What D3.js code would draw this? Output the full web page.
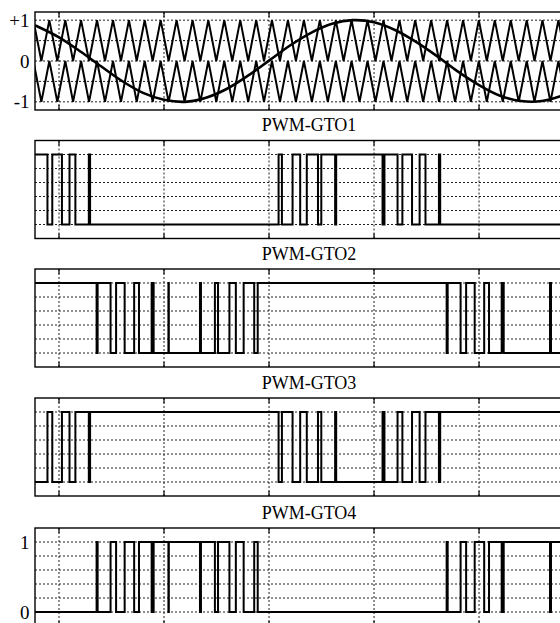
<!DOCTYPE html>
<html>
<head>
<meta charset="utf-8">
<script src="https://cdn.jsdelivr.net/npm/d3@7"></script>
<style>
  html, body { margin: 0; padding: 0; background: #fff; }
  svg { display: block; }
  text { font-family: "Liberation Serif", "Times New Roman", serif; fill: #000; }
</style>
</head>
<body>
<svg id="chart" width="560" height="623"></svg>
<script>
// ---- time axis (ms) ----
const timeDomain = [3.857, 29.95];
const timeTicks = [5, 10, 15, 20, 25];

// ---- reference sine (modulating signal, 60 Hz) ----
const sineT = [3.857, 4, 5, 6, 7, 8, 9, 10, 11, 12, 13, 14, 15, 16, 17, 18, 19, 20,
               21, 22, 23, 24, 25, 26, 27, 28, 29, 30];
const sineV = [0.87, 0.84, 0.58, 0.24, -0.13, -0.49, -0.78, -0.95, -1.00, -0.90, -0.68, -0.36, 0.01, 0.38,
               0.69, 0.91, 1.00, 0.95, 0.76, 0.47, 0.12, -0.26, -0.59, -0.85, -0.98, -0.98, -0.84, -0.57];

// ---- triangular carrier: times of the peaks (ms) ----
const carrierPeaks = [3.78, 4.54, 5.30, 6.05, 6.81, 7.57, 8.33, 9.08, 9.84, 10.60, 11.36, 12.11,
                      12.87, 13.63, 14.39, 15.14, 15.90, 16.66, 17.42, 18.18, 18.93, 19.69, 20.45,
                      21.21, 21.96, 22.72, 23.48, 24.24, 24.99, 25.75, 26.51, 27.27, 28.02, 28.78,
                      29.54, 30.30];
const upperCarrier = [0, 1];   // valley, peak
const lowerCarrier = [-1, 0];

// ---- gate signals: switching instants (ms), the state toggles at each ----
const gto1Edges = [4.45, 4.68, 5.14, 5.50, 5.78, 6.42, 6.48,
                   15.455, 15.614, 16.121, 16.484, 16.798, 17.331, 17.489, 18.148, 18.198,
                   20.405, 20.496, 21.12, 21.35, 21.81, 22.17, 22.45, 23.09, 23.15];
const gto2Edges = [6.790, 6.839, 7.455, 7.718, 8.126, 8.578, 8.808, 9.411, 9.507, 10.210,
                   10.229, 11.712, 11.759, 12.423, 12.572, 13.115, 13.420, 13.792, 14.294, 14.462,
                   23.457, 23.506, 24.122, 24.385, 24.793, 25.245, 25.475, 26.078, 26.174, 28.379,
                   28.426, 29.090, 29.239, 29.782];
const gateTitles = ["PWM-GTO1", "PWM-GTO2", "PWM-GTO3", "PWM-GTO4"];
const gateEdges = [gto1Edges, gto2Edges, gto1Edges, gto2Edges];
const gateInitial = [1, 1, 0, 0];

const gateGrid = [0, 0.2, 0.4, 0.6, 0.8, 1];
const topGrid = [-1, -0.5, 0, 0.5, 1];
const topLabels = [{v: 1, t: "+1"}, {v: 0, t: "0"}, {v: -1, t: "-1"}];
const lastLabels = [{v: 1, t: "1"}, {v: 0, t: "0"}];

// ---- layout ----
const svg = d3.select("#chart");
const left = 35, right = 583, panelH = 98;
const panelTops = [12, 140.5, 269, 398, 528];

const x = d3.scaleLinear().domain(timeDomain).range([left, right]);

function framePanel(g, y, grid) {
  const top = y.range()[1], bot = y.range()[0];
  // dotted grid
  g.append("g").selectAll("line").data(grid).join("line")
    .attr("x1", left).attr("x2", right)
    .attr("y1", d => y(d)).attr("y2", d => y(d))
    .attr("stroke", "#222").attr("stroke-width", 1)
    .attr("stroke-dasharray", "2,2");
  g.append("g").selectAll("line").data(timeTicks).join("line")
    .attr("x1", d => x(d)).attr("x2", d => x(d))
    .attr("y1", top).attr("y2", bot)
    .attr("stroke", "#222").attr("stroke-width", 1)
    .attr("stroke-dasharray", "2,2");
  // tick marks inside the frame
  g.append("g").selectAll("path").data(timeTicks).join("path")
    .attr("d", d => `M${x(d)},${top}v5M${x(d)},${bot}v-5`)
    .attr("stroke", "#000").attr("stroke-width", 1.2);
  // frame
  g.append("rect").attr("x", left).attr("y", top)
    .attr("width", right - left).attr("height", bot - top)
    .attr("fill", "none").attr("stroke", "#000").attr("stroke-width", 1.4);
}

// ---- panel 1: sine and the two carriers ----
{
  const top = panelTops[0];
  const y = d3.scaleLinear().domain([-1.2, 1.2]).range([top + panelH, top]);
  const g = svg.append("g");
  framePanel(g, y, topGrid);

  svg.append("clipPath").attr("id", "clip0")
    .append("rect").attr("x", left).attr("y", top).attr("width", right - left).attr("height", panelH);
  const pg = g.append("g").attr("clip-path", "url(#clip0)");

  const half = (carrierPeaks[1] - carrierPeaks[0]) / 2;
  [upperCarrier, lowerCarrier].forEach(([lo, hi]) => {
    const pts = [];
    carrierPeaks.forEach(p => { pts.push([p - half, lo]); pts.push([p, hi]); });
    pts.push([carrierPeaks[carrierPeaks.length - 1] + half, lo]);
    pg.append("path").datum(pts)
      .attr("d", d3.line().x(d => x(d[0])).y(d => y(d[1])))
      .attr("fill", "none").attr("stroke", "#000").attr("stroke-width", 2);
  });

  pg.append("path").datum(sineT.map((t, i) => [t, sineV[i]]))
    .attr("d", d3.line().x(d => x(d[0])).y(d => y(d[1])).curve(d3.curveCatmullRom))
    .attr("fill", "none").attr("stroke", "#000").attr("stroke-width", 2.6);

  g.selectAll("text.lab").data(topLabels).join("text")
    .attr("class", "lab")
    .attr("x", 29.5).attr("y", d => y(d.v)).attr("dy", "0.35em")
    .attr("text-anchor", "end").attr("font-size", 19)
    .text(d => d.t);
}

// ---- panels 2-5: gate pulse trains ----
gateTitles.forEach((title, i) => {
  const top = panelTops[i + 1];
  const y = d3.scaleLinear().domain([-0.2, 1.2]).range([top + panelH, top]);
  const g = svg.append("g");
  framePanel(g, y, gateGrid);

  g.append("text").attr("x", (left + right) / 2).attr("y", top - 9.5)
    .attr("text-anchor", "middle").attr("font-size", 18)
    .text(title);

  let state = gateInitial[i];
  const pts = [[timeDomain[0], state]];
  gateEdges[i].forEach(t => { state = 1 - state; pts.push([t, state]); });
  pts.push([timeDomain[1], state]);

  g.append("path").datum(pts)
    .attr("d", d3.line().x(d => x(d[0])).y(d => y(d[1])).curve(d3.curveStepAfter))
    .attr("fill", "none").attr("stroke", "#000").attr("stroke-width", 2);

  if (i === 3) {
    g.selectAll("text.lab").data(lastLabels).join("text")
      .attr("class", "lab")
      .attr("x", 29.5).attr("y", d => y(d.v)).attr("dy", "0.35em")
      .attr("text-anchor", "end").attr("font-size", 19)
      .text(d => d.t);
  }
});
</script>
</body>
</html>
